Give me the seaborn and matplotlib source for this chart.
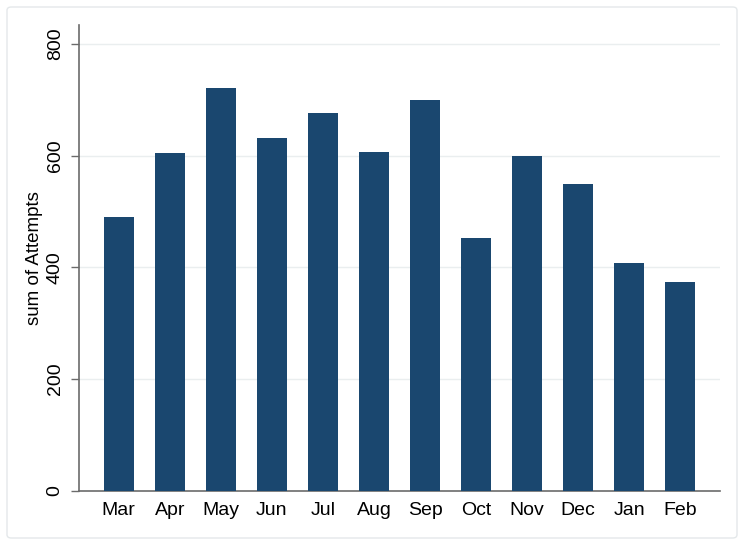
import matplotlib
matplotlib.use("Agg")
import matplotlib.pyplot as plt
import seaborn as sns
import pandas as pd
from matplotlib.patches import FancyBboxPatch

months = ["Mar", "Apr", "May", "Jun", "Jul", "Aug", "Sep", "Oct", "Nov", "Dec", "Jan", "Feb"]
attempts = [490, 605, 722, 632, 676, 607, 699, 452, 599, 549, 408, 373]
yticks = [0, 200, 400, 600, 800]

sns.set_theme(style="white")
plt.rcParams["font.family"] = ["Liberation Sans", "DejaVu Sans"]

df = pd.DataFrame({"month": months, "attempts": attempts})

fig = plt.figure(figsize=(7.45, 5.46), dpi=100)
fig.patch.set_facecolor("white")
border = FancyBboxPatch((7 / 745, 8 / 546), 730 / 745, 531 / 546,
                        boxstyle="round,pad=0,rounding_size=0.006",
                        transform=fig.transFigure, facecolor="none",
                        edgecolor="#e4e8ea", linewidth=1.0, zorder=-10)
fig.patches.append(border)

ax = fig.add_axes([79 / 745, (546 - 490.7) / 546, 641 / 745, (490.7 - 25) / 546])
ax.set_facecolor("none")
sns.barplot(data=df, x="month", y="attempts", order=months, color="#1a476f",
            saturation=1, width=0.59, linewidth=0, ax=ax, zorder=3)

ax.set_xlim(-0.778, 11.778)
ax.set_ylim(0, 834)
ax.set_yticks(yticks)
ax.set_yticklabels([str(v) for v in yticks], rotation=90, va="center")
ax.yaxis.grid(True, color="#eaeeef", linewidth=1.0, zorder=0)
ax.xaxis.grid(False)
ax.set_axisbelow(True)

for s in ["top", "right"]:
    ax.spines[s].set_visible(False)
for s in ["left", "bottom"]:
    ax.spines[s].set_color("#6b6b6b")
    ax.spines[s].set_linewidth(1.2)

ax.tick_params(axis="y", length=6, width=1, color="#6b6b6b", pad=5,
               labelsize=14, labelcolor="black", left=True)
ax.tick_params(axis="x", length=0, pad=8, labelsize=14, labelcolor="black")

ax.set_xlabel("")
ax.set_ylabel("sum of Attempts", fontsize=13.5, color="black")
ax.yaxis.set_label_coords(-0.056, 0.5)

fig.savefig("out.png", dpi=100, facecolor="white")
